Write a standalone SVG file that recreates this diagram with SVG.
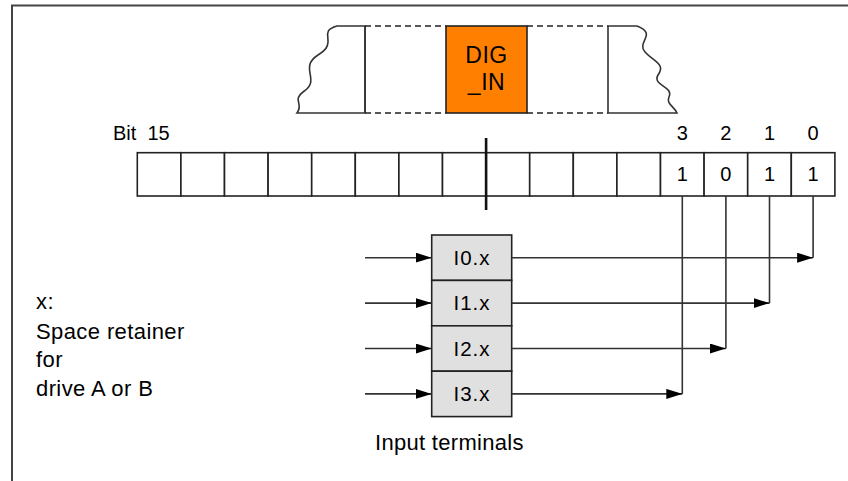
<svg xmlns="http://www.w3.org/2000/svg" width="848" height="481" viewBox="0 0 848 481">
<style>
.t{font-family:"Liberation Sans",Arial,Helvetica,sans-serif;fill:#000;}
.ln{stroke:#333;stroke-width:1.6;fill:none;}
.cell{fill:#fff;stroke:#222;stroke-width:1.6;}
.term{fill:#e0e0e0;stroke:#222;stroke-width:1.6;}
.dash{stroke:#222;stroke-width:1.6;stroke-dasharray:6,4;fill:none;}
</style>
<defs>
<marker id="ah" viewBox="0 0 16 10" refX="16" refY="5" markerWidth="16" markerHeight="10" markerUnits="userSpaceOnUse" orient="auto">
<path d="M0,0 L16,5 L0,10 Z" fill="#000"/>
</marker>
</defs>
<rect width="848" height="481" fill="#fff"/>
<!-- frame -->
<path d="M12,481 V5.5 H848" stroke="#444" stroke-width="2" fill="none"/>

<!-- memory strip -->
<g id="strip">
<path class="ln" d="M365,26 H337 C316,32 340,42 318,55 C298,68 322,80 303,92 C292,100 304,104 297,113 H365 Z" stroke="#222"/>
<line x1="365" y1="26" x2="365" y2="113" class="ln"/>
<path class="dash" d="M365,26 H446 M365,113 H446 M527,26 H608 M527,113 H608"/>
<path class="ln" d="M608,26 H637 C658,34 636,42 645,52 C654,62 666,64 658,75 C652,86 674,86 669,97 C666,104 674,106 677,113 H608 Z" stroke="#222"/>
</g>
<g id="dig_in">
<rect x="446" y="26" width="81" height="87" fill="#ff8000" stroke="#222" stroke-width="1.6"/>
<text class="t" x="486.5" y="63" font-size="23" text-anchor="middle" letter-spacing="0.5">DIG</text>
<text class="t" x="486.5" y="90" font-size="23" text-anchor="middle" letter-spacing="0.5">_IN</text>
</g>

<!-- register -->
<g id="register">
<text class="t" x="113" y="140" font-size="20" xml:space="preserve">Bit  15</text>
<g>
<rect class="cell" x="137.3" y="152.7" width="43.6" height="43.3"/>
<rect class="cell" x="180.9" y="152.7" width="43.6" height="43.3"/>
<rect class="cell" x="224.5" y="152.7" width="43.6" height="43.3"/>
<rect class="cell" x="268.1" y="152.7" width="43.6" height="43.3"/>
<rect class="cell" x="311.7" y="152.7" width="43.6" height="43.3"/>
<rect class="cell" x="355.3" y="152.7" width="43.6" height="43.3"/>
<rect class="cell" x="398.9" y="152.7" width="43.6" height="43.3"/>
<rect class="cell" x="442.5" y="152.7" width="43.6" height="43.3"/>
<rect class="cell" x="486.1" y="152.7" width="43.6" height="43.3"/>
<rect class="cell" x="529.7" y="152.7" width="43.6" height="43.3"/>
<rect class="cell" x="573.3" y="152.7" width="43.6" height="43.3"/>
<rect class="cell" x="616.9" y="152.7" width="43.6" height="43.3"/>
<rect class="cell" x="660.5" y="152.7" width="43.6" height="43.3"/>
<rect class="cell" x="704.1" y="152.7" width="43.6" height="43.3"/>
<rect class="cell" x="747.7" y="152.7" width="43.6" height="43.3"/>
<rect class="cell" x="791.3" y="152.7" width="43.6" height="43.3"/>
</g>
<line x1="486.1" y1="138" x2="486.1" y2="210" stroke="#111" stroke-width="2.6"/>
<g font-size="20" text-anchor="middle">
<text class="t" x="682.3" y="139.5">3</text>
<text class="t" x="725.9" y="139.5">2</text>
<text class="t" x="769.5" y="139.5">1</text>
<text class="t" x="813.1" y="139.5">0</text>
<text class="t" x="682.3" y="180.5">1</text>
<text class="t" x="725.9" y="180.5">0</text>
<text class="t" x="769.5" y="180.5">1</text>
<text class="t" x="813.1" y="180.5">1</text>
</g>
</g>

<!-- input terminals -->
<g id="I0"><rect class="term" x="431.7" y="235" width="80" height="45.4"/><text class="t" x="472" y="265" font-size="20.5" text-anchor="middle" letter-spacing="1">I0.x</text></g>
<g id="I1"><rect class="term" x="431.7" y="280.4" width="80" height="45.4"/><text class="t" x="472" y="310.4" font-size="20.5" text-anchor="middle" letter-spacing="1">I1.x</text></g>
<g id="I2"><rect class="term" x="431.7" y="325.8" width="80" height="45.4"/><text class="t" x="472" y="355.8" font-size="20.5" text-anchor="middle" letter-spacing="1">I2.x</text></g>
<g id="I3"><rect class="term" x="431.7" y="371.2" width="80" height="45.4"/><text class="t" x="472" y="401.2" font-size="20.5" text-anchor="middle" letter-spacing="1">I3.x</text></g>

<!-- connectors -->
<g id="connectors" class="ln">
<line x1="365" y1="257.7" x2="431.7" y2="257.7" marker-end="url(#ah)"/>
<line x1="365" y1="303.1" x2="431.7" y2="303.1" marker-end="url(#ah)"/>
<line x1="365" y1="348.5" x2="431.7" y2="348.5" marker-end="url(#ah)"/>
<line x1="365" y1="393.9" x2="431.7" y2="393.9" marker-end="url(#ah)"/>
<line x1="813.1" y1="196" x2="813.1" y2="257.7"/>
<line x1="769.5" y1="196" x2="769.5" y2="303.1"/>
<line x1="725.9" y1="196" x2="725.9" y2="348.5"/>
<line x1="682.3" y1="196" x2="682.3" y2="393.9"/>
<line x1="511.7" y1="257.7" x2="813.1" y2="257.7" marker-end="url(#ah)"/>
<line x1="511.7" y1="303.1" x2="769.5" y2="303.1" marker-end="url(#ah)"/>
<line x1="511.7" y1="348.5" x2="725.9" y2="348.5" marker-end="url(#ah)"/>
<line x1="511.7" y1="393.9" x2="682.3" y2="393.9" marker-end="url(#ah)"/>
</g>

<text class="t" x="375" y="450" font-size="22" letter-spacing="0.3">Input terminals</text>

<g id="legend" font-size="22">
<text class="t" x="36" y="309" letter-spacing="0.4">x:</text>
<text class="t" x="36" y="338.5" letter-spacing="0.4">Space retainer</text>
<text class="t" x="36" y="367" letter-spacing="0.4">for</text>
<text class="t" x="36" y="396" letter-spacing="0.4">drive A or B</text>
</g>
</svg>
